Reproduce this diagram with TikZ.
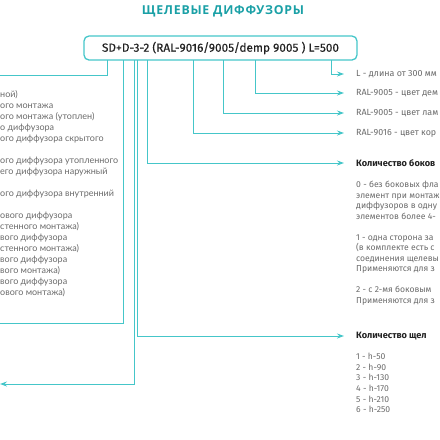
\documentclass[tikz,border=0pt]{standalone}
\usepackage{fontspec}
\setmainfont{Fira Sans}
\newfontfamily\titlefont{Open Sans}[LetterSpace=6]
\newfontfamily\boxfont{Fira Sans}[FakeBold=0.4]
\newfontfamily\leftfont{Lato}
\usetikzlibrary{arrows.meta}
\definecolor{tealline}{HTML}{45C6C9}
\definecolor{tealtitle}{HTML}{1AA0A6}
\definecolor{txtgray}{HTML}{6A6A6A}
\definecolor{txtdark}{HTML}{222222}
\begin{document}
\begin{tikzpicture}[x=1pt,y=-1pt,
  conn/.style={draw=tealline,line width=1pt},
  arr/.style={conn,-{Stealth[length=7pt,width=5pt]}},
  rtext/.style={anchor=west,inner sep=0pt,text=txtgray,font=\fontsize{8.9}{10}\selectfont},
  rblock/.style={anchor=north west,inner sep=0pt,align=left,text=txtgray},
  headtext/.style={anchor=west,inner sep=0pt,text=txtdark,font=\fontsize{9.2}{10}\selectfont\bfseries},
  lblock/.style={anchor=north west,inner sep=0pt,align=left,text=txtgray,font=\leftfont\fontsize{9}{11}\selectfont},
  codebox/.style={draw=tealline,line width=1.3pt,rounded corners=5pt,minimum width=273pt,minimum height=24pt,inner sep=0pt,text=txtdark,font=\boxfont\fontsize{11.8}{13}\selectfont}
]
\useasboundingbox (0,0) rectangle (440,440);

\node[text=tealtitle,font=\titlefont\bfseries\fontsize{12.3}{14}\selectfont,inner sep=0pt] (title) at (223,11) {ЩЕЛЕВЫЕ ДИФФУЗОРЫ};

\node[codebox] (box) at (220.5,48) {SD+D-3-2 (RAL-9016/9005/demp 9005 ) L=500};

% start points on box bottom
\coordinate (bA) at (107,60);
\coordinate (bB) at (123,60);
\coordinate (bC) at (134,60);
\coordinate (bD) at (137,60);
\coordinate (bE) at (147,60);
\coordinate (bF) at (193,60);
\coordinate (bG) at (223,60);
\coordinate (bH) at (255,60);
\coordinate (bI) at (331,60);

% right texts
\node[rtext] (tL) at (356,74) {L - длина от 300 мм};
\node[rtext] (tR1) at (356,93) {RAL-9005 - цвет дем};
\node[rtext] (tR2) at (356,113) {RAL-9005 - цвет лам};
\node[rtext] (tR3) at (356,133) {RAL-9016 - цвет кор};
\node[headtext] (hB) at (356,163) {Количество боков};
\node[rblock,font=\fontsize{8.6}{10.5}\selectfont] (dB) at (356,181) {0 - без боковых фла\\элемент при монтаж\\диффузоров в одну\\элементов более 4-\\[10.5pt]1 - одна сторона за\\(в комплекте есть с\\соединения щелевы\\Применяются для з\\[10.5pt]2 - с 2-мя боковым\\Применяются для з};
\node[headtext] (hQ) at (356,336) {Количество щел};
\node[rblock,font=\fontsize{8.6}{10.6}\selectfont] (dQ) at (356,353) {1 - h-50\\2 - h-90\\3 - h-130\\4 - h-170\\5 - h-210\\6 - h-250};

% left texts
\node[lblock] (lT) at (0,90) {ной)\\ого монтажа\\ого монтажа (утоплен)\\о диффузора\\ого диффузора скрытого\\[11pt]ого диффузора утопленного\\его диффузора наружный\\[11pt]ого диффузора внутренний\\[11pt]ового диффузора\\стенного монтажа)\\вого диффузора\\стенного монтажа)\\вого диффузора\\вого монтажа)\\вого диффузора\\ового монтажа)};

% left ends
\coordinate (eA) at (0,75);
\coordinate (eB) at (0,323);
\coordinate (eC) at (0,384);

\draw[conn] (bA) |- (eA);
\draw[conn] (bB) |- (eB);
\draw[arr] (bC) |- (eC);

\draw[arr] (bD) |- ([xshift=-12pt]hQ.west);
\draw[arr] (bE) |- ([xshift=-12pt]hB.west);
\draw[arr] (bF) |- ([xshift=-12pt]tR3.west);
\draw[arr] (bG) |- ([xshift=-12pt]tR2.west);
\draw[arr] (bH) |- ([xshift=-12pt]tR1.west);
\draw[arr] (bI) |- ([xshift=-12pt]tL.west);
\end{tikzpicture}
\end{document}
